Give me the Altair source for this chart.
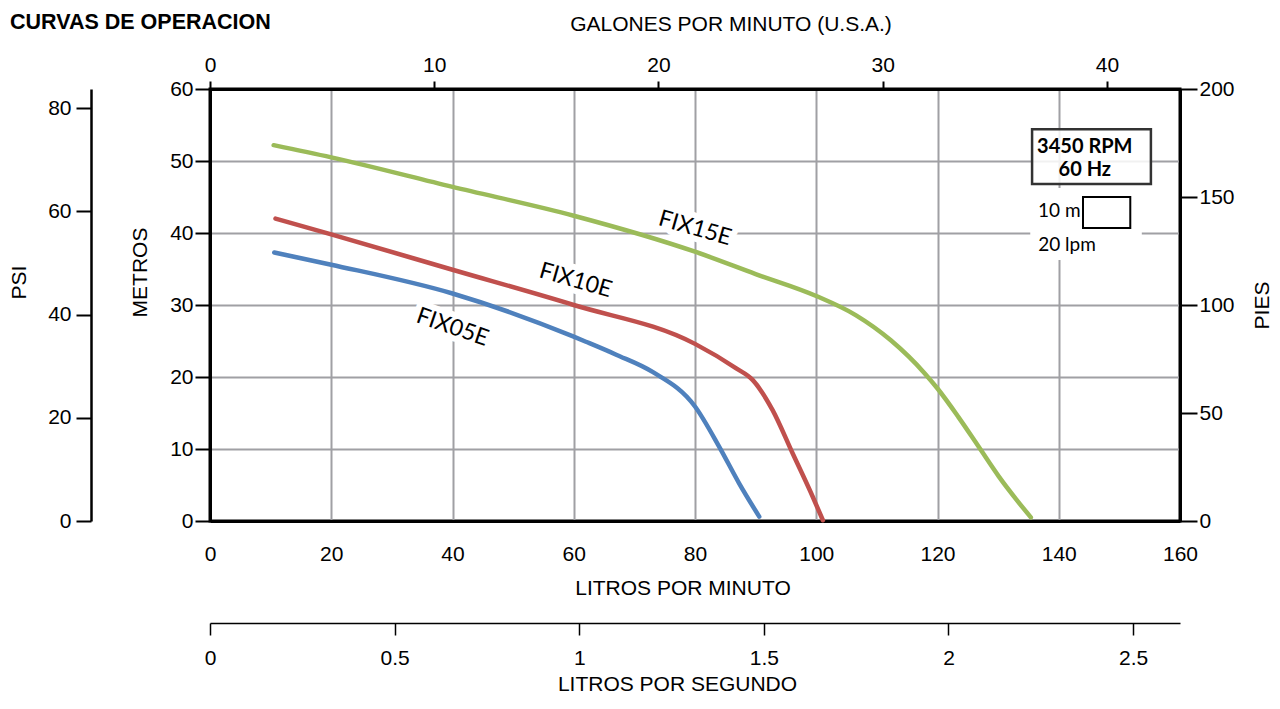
import altair as alt
import pandas as pd

# ---------------- data ----------------
TITLE = ["CURVAS DE OPERACION"]
MODELS = ["FIX05E", "FIX10E", "FIX15E"]
COLORS = ["#4F81BD", "#C0504D", "#9BBB59"]

FIX05E_LPM = [10.6, 20, 40, 60, 62, 67, 73, 80, 84, 87.3, 90.6]
FIX05E_M = [37.3, 35.6, 31.6, 25.6, 24.9, 23.1, 20.7, 15.9, 10.3, 5.2, 0.6]

FIX10E_LPM = [10.8, 20, 40, 60, 80, 86.8, 89.5, 92.8, 96.1, 99.4, 101.1]
FIX10E_M = [42.0, 39.8, 34.9, 30.0, 24.6, 21.2, 19.6, 15.4, 9.4, 3.4, 0.1]

FIX15E_LPM = [10.5, 20, 40, 60, 80, 90, 100, 106.5, 112.3, 117.9, 120, 123.4, 126.8, 130.1, 135.4]
FIX15E_M = [52.2, 50.5, 46.4, 42.4, 37.4, 34.3, 31.25, 28.6, 25.1, 20.5, 18.4, 14.5, 10.3, 6.2, 0.5]

LABEL_TEXT = ["FIX05E", "FIX10E", "FIX15E"]
LABEL_X = [40.0, 60.3, 80.0]
LABEL_Y = [26.9, 33.4, 40.65]
LABEL_ANGLE = [19, 16, 16]

BOX_TEXT = ["3450 RPM", "60 Hz"]
BOX_TEXT_X = [144.3, 144.3]
BOX_TEXT_Y = [51.9, 48.75]
BOX_X = [135.6]
BOX_X2 = [155.2]
BOX_Y = [46.8]
BOX_Y2 = [54.4]
BG_X = [135.3]
BG_X2 = [153.7]
BG_Y = [36.25]
BG_Y2 = [46.25]
SCALE_BOX_X = [144.0]
SCALE_BOX_X2 = [151.8]
SCALE_BOX_Y = [40.7]
SCALE_BOX_Y2 = [45.0]
SCALE_M_TEXT = ["10 m"]
SCALE_M_X = [143.6]
SCALE_M_Y = [43.0]
SCALE_L_TEXT = ["20 lpm"]
SCALE_L_X = [136.6]
SCALE_L_Y = [38.3]

LPM_TICKS = [0, 20, 40, 60, 80, 100, 120, 140, 160]
METROS_TICKS = [0, 10, 20, 30, 40, 50, 60]
PIES_TICKS = [0, 50, 100, 150, 200]
PSI_TICKS = [0, 20, 40, 60, 80]
GPM_TICKS = [0, 10, 20, 30, 40]
LPS_TICKS = [0, 0.5, 1, 1.5, 2, 2.5]

LPM_DOMAIN = [0, 160]
METROS_DOMAIN = [0, 60]
PIES_DOMAIN = [0, 200]
PSI_DOMAIN = [0, 83.7]
GPM_DOMAIN = [0, 43.26]
LPS_DOMAIN = [0, 2.627]

AXIS_FONT = "Liberation Sans"
LABEL_FONT = "Lato"
GRID = "#a0a0a4"

# ---------------- tables ----------------
rows = []
for name, xs_, ys_ in [("FIX05E", FIX05E_LPM, FIX05E_M),
                       ("FIX10E", FIX10E_LPM, FIX10E_M),
                       ("FIX15E", FIX15E_LPM, FIX15E_M)]:
    for a, b in zip(xs_, ys_):
        rows.append({"model": name, "lpm": a, "m": b})
curve_df = pd.DataFrame(rows)
label_df = pd.DataFrame({"t": LABEL_TEXT, "x": LABEL_X, "y": LABEL_Y, "ang": LABEL_ANGLE})


def xs(field, axis=None, domain=LPM_DOMAIN):
    return alt.X(f"{field}:Q", scale=alt.Scale(domain=domain, nice=False, zero=False), axis=axis)


def ys(field, axis=None, domain=METROS_DOMAIN):
    return alt.Y(f"{field}:Q", scale=alt.Scale(domain=domain, nice=False, zero=False), axis=axis)


def edge_hide(lo, hi):
    return {"condition": {"test": f"datum.value == {lo} || datum.value == {hi}", "value": 0}, "value": 1}


lpm_axis = alt.Axis(orient="bottom", values=LPM_TICKS, grid=True, gridColor=GRID, gridWidth=2,
                    gridOpacity=edge_hide(0, 160), tickSize=0, labelPadding=22,
                    domainColor="black", domainWidth=3, title="LITROS POR MINUTO",
                    titlePadding=13, titleX=472.5)
metros_axis = alt.Axis(orient="left", values=METROS_TICKS, grid=True, gridColor=GRID, gridWidth=2,
                       gridOpacity=edge_hide(0, 60), tickSize=15, tickColor="black", tickWidth=2,
                       labelPadding=2, domainColor="black", domainWidth=3, title="METROS",
                       titlePadding=19, titleY=183)
pies_axis = alt.Axis(orient="right", values=PIES_TICKS, grid=False, tickSize=17, tickColor="black",
                     tickWidth=2, labelPadding=2, domainColor="black", domainWidth=3, title="PIES",
                     titleAngle=270, titleBaseline="top", titlePadding=17)
psi_axis = alt.Axis(orient="left", offset=119, values=PSI_TICKS, grid=False, tickSize=15,
                    tickColor="black", tickWidth=2, labelPadding=5, domainColor="black",
                    domainWidth=2.5, title="PSI", titlePadding=18, titleY=193)
gpm_axis = alt.Axis(orient="top", values=GPM_TICKS, grid=False, tickSize=8, tickColor="black",
                    tickWidth=2, labelPadding=6, domainColor="black", domainWidth=3,
                    title="GALONES POR MINUTO (U.S.A.)", titlePadding=20, titleX=520.5)
lps_axis = alt.Axis(orient="bottom", offset=102, values=LPS_TICKS, grid=False, tickSize=12,
                    tickColor="black", tickWidth=1.5, labelPadding=12, domainColor="black",
                    domainWidth=1.5, format="~g", title="LITROS POR SEGUNDO", titlePadding=5,
                    titleX=467)

# ---------------- layers ----------------
bg = alt.Chart(pd.DataFrame({"x": BG_X, "x2": BG_X2, "y": BG_Y, "y2": BG_Y2})).mark_rect(
    fill="white").encode(x=xs("x"), x2="x2:Q", y=ys("y"), y2="y2:Q")

halo = alt.Chart(label_df).mark_text(font=LABEL_FONT, fontSize=23, align="center", baseline="middle",
                                     fill="white", stroke="white", strokeWidth=12,
                                     strokeJoin="round").encode(
    x=xs("x"), y=ys("y"), text="t:N", angle=alt.Angle("ang:Q", scale=None))

curves = alt.Chart(curve_df).mark_line(strokeWidth=4.5, interpolate="monotone", strokeCap="round").encode(
    x=xs("lpm", axis=lpm_axis),
    y=ys("m", axis=metros_axis),
    color=alt.Color("model:N", scale=alt.Scale(domain=MODELS, range=COLORS), legend=None),
)

labels = alt.Chart(label_df).mark_text(font=LABEL_FONT, fontSize=23, align="center", baseline="middle",
                                       color="black").encode(
    x=xs("x"), y=ys("y"), text="t:N", angle=alt.Angle("ang:Q", scale=None))

box = alt.Chart(pd.DataFrame({"x": BOX_X, "x2": BOX_X2, "y": BOX_Y, "y2": BOX_Y2})).mark_rect(
    fill="white", fillOpacity=0.85, stroke="#333333", strokeWidth=2.5).encode(
    x=xs("x"), x2="x2:Q", y=ys("y"), y2="y2:Q")

box_text = alt.Chart(pd.DataFrame({"t": BOX_TEXT, "x": BOX_TEXT_X, "y": BOX_TEXT_Y})).mark_text(
    font=LABEL_FONT, fontSize=20, fontWeight="bold", align="center", baseline="middle",
    color="black").encode(x=xs("x"), y=ys("y"), text="t:N")

scale_box = alt.Chart(pd.DataFrame({"x": SCALE_BOX_X, "x2": SCALE_BOX_X2, "y": SCALE_BOX_Y,
                                    "y2": SCALE_BOX_Y2})).mark_rect(
    fill="white", stroke="black", strokeWidth=2).encode(x=xs("x"), x2="x2:Q", y=ys("y"), y2="y2:Q")

scale_m = alt.Chart(pd.DataFrame({"t": SCALE_M_TEXT, "x": SCALE_M_X, "y": SCALE_M_Y})).mark_text(
    font=LABEL_FONT, fontSize=19, align="right", baseline="middle", color="black").encode(
    x=xs("x"), y=ys("y"), text="t:N")

scale_l = alt.Chart(pd.DataFrame({"t": SCALE_L_TEXT, "x": SCALE_L_X, "y": SCALE_L_Y})).mark_text(
    font=LABEL_FONT, fontSize=19, align="left", baseline="middle", color="black").encode(
    x=xs("x"), y=ys("y"), text="t:N")

pies_layer = alt.Chart(pd.DataFrame({"v": PIES_TICKS})).mark_point(opacity=0).encode(
    y=ys("v", axis=pies_axis, domain=PIES_DOMAIN))
psi_layer = alt.Chart(pd.DataFrame({"v": PSI_TICKS})).mark_point(opacity=0).encode(
    y=ys("v", axis=psi_axis, domain=PSI_DOMAIN))
gpm_layer = alt.Chart(pd.DataFrame({"v": GPM_TICKS})).mark_point(opacity=0).encode(
    x=xs("v", axis=gpm_axis, domain=GPM_DOMAIN))
lps_layer = alt.Chart(pd.DataFrame({"v": LPS_TICKS})).mark_point(opacity=0).encode(
    x=xs("v", axis=lps_axis, domain=LPS_DOMAIN))

title = alt.Chart(pd.DataFrame({"t": TITLE})).mark_text(
    font=AXIS_FONT, fontSize=21.5, fontWeight="bold", align="left", baseline="alphabetic",
    color="black").encode(x=alt.value(-200), y=alt.value(-60), text="t:N")

chart = alt.layer(
    bg, halo, curves, labels, box, box_text, scale_box, scale_m, scale_l,
    pies_layer, psi_layer, gpm_layer, lps_layer, title,
).resolve_scale(x="independent", y="independent").properties(
    width=970, height=432,
    autosize=alt.AutoSizeParams(type="none"),
    padding={"left": 202, "top": 81, "right": 92, "bottom": 177},
).configure_view(stroke="black", strokeWidth=3).configure_axis(
    labelFont=AXIS_FONT, labelFontSize=21, labelColor="black", labelFlush=False,
    titleFont=AXIS_FONT, titleFontSize=21, titleFontWeight="normal", titleColor="black",
)

chart.save("out.html", embed_options={"renderer": "svg", "actions": False})
